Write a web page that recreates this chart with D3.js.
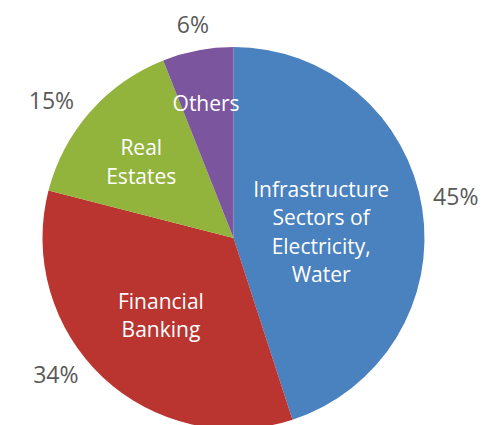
<!DOCTYPE html>
<html>
<head>
<meta charset="utf-8">
<script src="https://cdn.jsdelivr.net/npm/d3@7"></script>
<style>
  html, body { margin: 0; padding: 0; background: #fff; }
  svg { display: block; }
</style>
</head>
<body>
<svg id="chart" width="483" height="425"></svg>
<script>
// Share of investment by sector
const categories = [
  ["Infrastructure", "Sectors of", "Electricity,", "Water"],
  ["Financial", "Banking"],
  ["Real", "Estates"],
  ["Others"]
];
const shares = [45, 34, 15, 6];
const percentLabels = ["45%", "34%", "15%", "6%"];
const colors = ["#4A81BF", "#BA3430", "#92B43D", "#7B569F"];

// Label placement tweaks (angle offset in degrees, radius as fraction of pie radius)
const innerAngleShift = [5, 0, -2, -0.7];
const innerRadiusFrac = [0.46, 0.555, 0.625, 0.72];
const outerAngleShift = [-1.4, 9.3, -4.4, 0];
const outerRadius = [226, 224, 228, 217];

const width = 483, height = 425;
const cx = 233.5, cy = 238, r = 191;
const fontFamily = "'Open Sans', 'Noto Sans', sans-serif";
const fontSize = 21;
const pctFontSize = 23;
const lineHeight = 28.5;

const svg = d3.select("#chart");
const g = svg.append("g").attr("transform", `translate(${cx},${cy})`);

const pie = d3.pie().sort(null).value(d => d);
const arcs = pie(shares);
const arc = d3.arc().innerRadius(0).outerRadius(r);

g.selectAll("path.slice")
  .data(arcs)
  .join("path")
  .attr("class", "slice")
  .attr("d", arc)
  .attr("fill", (d, i) => colors[i]);

const rad = deg => deg * Math.PI / 180;
const polar = (angle, radius) => [radius * Math.sin(angle), -radius * Math.cos(angle)];

// Category names inside each slice
arcs.forEach((d, i) => {
  const mid = (d.startAngle + d.endAngle) / 2 + rad(innerAngleShift[i]);
  const [x, y] = polar(mid, r * innerRadiusFrac[i]);
  const lines = categories[i];
  const capH = fontSize * 0.714;
  const blockH = (lines.length - 1) * lineHeight + capH;
  const firstBaseline = y - blockH / 2 + capH;
  const t = g.append("text")
    .attr("text-anchor", "middle")
    .attr("fill", "#fff")
    .style("font-family", fontFamily)
    .style("font-size", fontSize + "px");
  lines.forEach((line, k) => {
    t.append("tspan")
      .attr("x", x)
      .attr("y", firstBaseline + k * lineHeight)
      .text(line);
  });
});

// Percentages outside the pie
arcs.forEach((d, i) => {
  const mid = (d.startAngle + d.endAngle) / 2 + rad(outerAngleShift[i]);
  const [x, y] = polar(mid, outerRadius[i]);
  g.append("text")
    .attr("x", x)
    .attr("y", y + pctFontSize * 0.36)
    .attr("text-anchor", "middle")
    .attr("fill", "#595959")
    .style("font-family", fontFamily)
    .style("font-size", pctFontSize + "px")
    .text(percentLabels[i]);
});
</script>
</body>
</html>
